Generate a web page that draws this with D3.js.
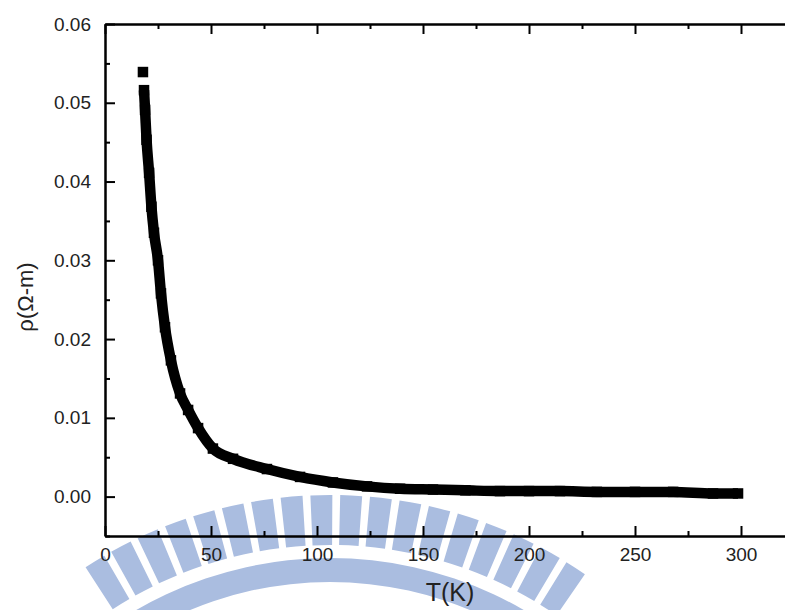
<!DOCTYPE html>
<html>
<head>
<meta charset="utf-8">
<script src="https://cdn.jsdelivr.net/npm/d3@7"></script>
<style>
  html, body { margin: 0; padding: 0; background: #fff; }
  svg { display: block; }
  text { font-family: "Liberation Sans", Arial, sans-serif; fill: #222; }
</style>
</head>
<body>
<svg id="chart" width="785" height="610"></svg>
<script>
// ---- data ----
const temperatureK = [17.9, 18.4, 18.9, 19.6, 20.8, 21.9, 23.1, 25.0, 26.4, 28.3, 31.1, 35.4, 39.2, 43.9,
  50.9, 60.4, 76.4, 92.0, 107.5, 123.6, 139.2, 154.7, 170, 186.3, 200, 214.6, 232, 250, 268, 286.8, 298.6];
const resistivity = [0.0539, 0.0516, 0.0491, 0.0453, 0.0411, 0.0368, 0.0335, 0.0300, 0.0258, 0.0215, 0.0173,
  0.0131, 0.0110, 0.0087, 0.0061, 0.0048, 0.0035, 0.0025, 0.0018, 0.0013, 0.0010, 0.0009, 0.0008, 0.0007,
  0.0007, 0.0007, 0.0006, 0.0006, 0.0006, 0.0004, 0.0004];
const xMajorTicks = [0, 50, 100, 150, 200, 250, 300];
const xMinorTicks = [25, 75, 125, 175, 225, 275, 325];
const yMajorTicks = [0.00, 0.01, 0.02, 0.03, 0.04, 0.05, 0.06];
const yMinorTicks = [-0.005, 0.005, 0.015, 0.025, 0.035, 0.045, 0.055];
const xTitle = "T(K)";
const yTitle = "ρ(Ω-m)";

const points = temperatureK.map((t, i) => ({ t, r: resistivity[i] }));

const svg = d3.select("#chart");
svg.append("rect").attr("width", 785).attr("height", 610).attr("fill", "#fff");

// ---- watermark (light blue logo arc) ----
const wm = svg.append("g").attr("transform", "translate(330,945)").attr("fill", "#aabde0");
const deg = Math.PI / 180;
d3.range(-31.5, 36, 3.8).forEach(a => {
  wm.append("path").attr("d", d3.arc()
    .innerRadius(400).outerRadius(450)
    .startAngle((a - 1.4) * deg).endAngle((a + 1.4) * deg)());
});
wm.append("path").attr("d", d3.arc()
  .innerRadius(363).outerRadius(387)
  .startAngle(-50 * deg).endAngle(50 * deg)());

// ---- scales ----
const x = d3.scaleLinear().domain([0, 325]).range([105, 794]);
const y = d3.scaleLinear().domain([-0.005, 0.06]).range([536, 24]);

function styleAxis(g) {
  g.selectAll("path.domain").attr("stroke", "#000").attr("stroke-width", 2);
  g.selectAll(".tick line").attr("stroke", "#000").attr("stroke-width", 2);
  g.selectAll(".tick text").style("font-family", "'Liberation Sans', Arial, sans-serif")
    .style("font-size", "19px").attr("fill", "#222");
}

// bottom axis
const gB = svg.append("g").attr("transform", `translate(0,${y.range()[0]})`)
  .call(d3.axisBottom(x).tickValues(xMajorTicks).tickSize(-10).tickSizeOuter(0).tickPadding(12)
    .tickFormat(d3.format("d")));
styleAxis(gB);
const gBm = svg.append("g").attr("transform", `translate(0,${y.range()[0]})`)
  .call(d3.axisBottom(x).tickValues(xMinorTicks).tickSize(-5).tickSizeOuter(0).tickFormat(""));
styleAxis(gBm);

// top axis
const gT = svg.append("g").attr("transform", `translate(0,${y.range()[1]})`)
  .call(d3.axisTop(x).tickValues(xMajorTicks).tickSize(-10).tickSizeOuter(0).tickFormat(""));
styleAxis(gT);
const gTm = svg.append("g").attr("transform", `translate(0,${y.range()[1]})`)
  .call(d3.axisTop(x).tickValues(xMinorTicks).tickSize(-5).tickSizeOuter(0).tickFormat(""));
styleAxis(gTm);

// left axis
const gL = svg.append("g").attr("transform", `translate(${x.range()[0]},0)`)
  .call(d3.axisLeft(y).tickValues(yMajorTicks).tickSize(-10).tickSizeOuter(0).tickPadding(14)
    .tickFormat(d3.format(".2f")));
styleAxis(gL);
const gLm = svg.append("g").attr("transform", `translate(${x.range()[0]},0)`)
  .call(d3.axisLeft(y).tickValues(yMinorTicks).tickSize(-5).tickSizeOuter(0).tickFormat(""));
styleAxis(gLm);

// ---- data band ----
const line = d3.line().x(d => x(d.t)).y(d => y(d.r)).curve(d3.curveMonotoneX);
svg.append("path")
  .datum(points.slice(1))
  .attr("d", line)
  .attr("fill", "none")
  .attr("stroke", "#000")
  .attr("stroke-width", 10.5);

const s = 10.5;
svg.append("g").selectAll("rect").data(points).join("rect")
  .attr("x", d => x(d.t) - s / 2)
  .attr("y", d => y(d.r) - s / 2)
  .attr("width", s).attr("height", s)
  .attr("fill", "#000");

// ---- titles ----
svg.append("text").attr("x", 450).attr("y", 601).attr("text-anchor", "middle")
  .style("font-size", "25px").text(xTitle);
svg.append("text").attr("transform", "translate(33,297) rotate(-90)").attr("text-anchor", "middle")
  .style("font-size", "22px").text(yTitle);
</script>
</body>
</html>
